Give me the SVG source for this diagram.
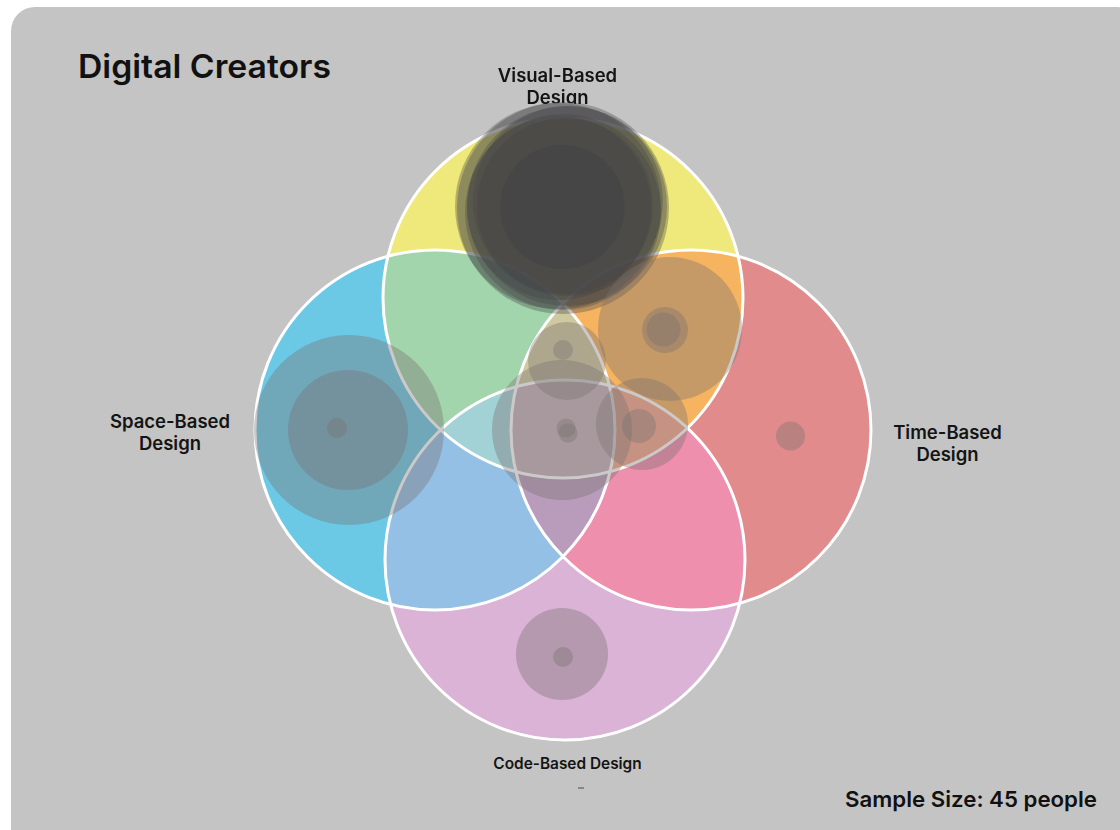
<svg xmlns="http://www.w3.org/2000/svg" width="1120" height="830" viewBox="0 0 1120 830">
<style>
  .lbl{font-family:Inter,"Liberation Sans",sans-serif;font-weight:600;fill:#141414;text-anchor:middle;font-size:18.5px;}
  .title{font-family:Inter,"Liberation Sans",sans-serif;font-weight:600;fill:#111;}
  .g{fill:#787070;fill-opacity:0.38;}
  .gd{fill:#424246;fill-opacity:0.34;}
  .ol{fill:none;stroke:#ffffff;stroke-width:3;}
</style>
<defs>
  <clipPath id="clipY"><circle cx="563" cy="298" r="180"/></clipPath>
  <clipPath id="clipB"><circle cx="435" cy="430" r="180"/></clipPath>
  <clipPath id="clipR"><circle cx="691" cy="430" r="180"/></clipPath>
  <clipPath id="clipP"><circle cx="565" cy="560" r="180"/></clipPath>
  <mask id="mTop">
    <rect x="0" y="0" width="1120" height="830" fill="#fff"/>
    <circle cx="562" cy="208" r="105" fill="#000"/>
  </mask>
</defs>

<rect id="background" x="11" y="7" width="1130" height="850" rx="24" fill="#c4c4c4"/>

<g id="venn-fills">
  <circle cx="563" cy="298" r="180" fill="#eee97a"/>
  <circle cx="435" cy="430" r="180" fill="#6bc9e6"/>
  <circle cx="691" cy="430" r="180" fill="#e28b8c"/>
  <circle cx="565" cy="560" r="180" fill="#dab3d6"/>
  <g clip-path="url(#clipY)">
    <circle cx="435" cy="430" r="180" fill="#a2d5ab"/>
    <circle cx="691" cy="430" r="180" fill="#f6b460"/>
  </g>
  <g clip-path="url(#clipP)">
    <circle cx="435" cy="430" r="180" fill="#95c0e5"/>
    <circle cx="691" cy="430" r="180" fill="#ef8fae"/>
  </g>
  <g clip-path="url(#clipB)">
    <circle cx="691" cy="430" r="180" fill="#b99bbb"/>
  </g>
  <g clip-path="url(#clipY)"><g clip-path="url(#clipB)">
    <circle cx="691" cy="430" r="180" fill="#cfc9a0"/>
    <circle cx="565" cy="560" r="180" fill="#a2d1d6"/>
  </g></g>
  <g clip-path="url(#clipP)"><g clip-path="url(#clipB)">
    <circle cx="691" cy="430" r="180" fill="#b99bbb"/>
  </g></g>
  <g clip-path="url(#clipY)"><g clip-path="url(#clipR)">
    <circle cx="565" cy="560" r="180" fill="#f6a88e"/>
  </g></g>
  <g clip-path="url(#clipY)"><g clip-path="url(#clipB)"><g clip-path="url(#clipR)">
    <circle cx="565" cy="560" r="180" fill="#c6b2bc"/>
  </g></g></g>
</g>

<g id="venn-outlines">
  <circle class="ol" cx="563" cy="298" r="180"/>
  <circle class="ol" cx="435" cy="430" r="180"/>
  <circle class="ol" cx="691" cy="430" r="180"/>
  <circle class="ol" cx="565" cy="560" r="180"/>
</g>

<g id="label-visual" mask="url(#mTop)">
  <text class="lbl" x="557.5" y="82">Visual-Based</text>
  <text class="lbl" x="557.5" y="104">Design</text>
</g>
<g id="label-space">
  <text class="lbl" x="170" y="428">Space-Based</text>
  <text class="lbl" x="170" y="450">Design</text>
</g>
<g id="label-time">
  <text class="lbl" x="947.5" y="439">Time-Based</text>
  <text class="lbl" x="947.5" y="461">Design</text>
</g>
<g id="label-code">
  <text class="lbl" x="567.5" y="769" style="font-size:15.4px">Code-Based Design</text>
  <line x1="578" y1="788" x2="584" y2="788" stroke="#333" stroke-opacity="0.7" stroke-width="1.2"/>
</g>

<g id="bubble-visual">
  <circle class="gd" cx="563" cy="208" r="106"/>
  <circle class="gd" cx="558" cy="206" r="103"/>
  <circle class="gd" cx="567" cy="206" r="100"/>
  <circle class="gd" cx="563" cy="212" r="98"/>
  <circle class="gd" cx="568" cy="201" r="95"/>
  <circle class="gd" cx="559" cy="208" r="92"/>
  <circle class="gd" cx="565" cy="206" r="88"/>
  <circle class="gd" cx="562" cy="207" r="62"/>
  <circle class="gd" cx="563" cy="207" r="62"/>
</g>
<g id="bubble-visual-time">
  <circle class="g" cx="670" cy="329" r="72"/>
  <circle class="g" cx="665" cy="330" r="23"/>
  <circle class="g" cx="663.5" cy="329.5" r="17"/>
</g>
<g id="bubble-visual-space-time">
  <circle class="g" cx="567" cy="361" r="39"/>
  <circle class="g" cx="563" cy="350" r="10"/>
</g>
<g id="bubble-center">
  <circle class="g" cx="562" cy="430" r="70"/>
  <circle class="g" cx="566" cy="428" r="9.5"/>
  <circle class="g" cx="568" cy="433" r="9.5"/>
</g>
<g id="bubble-visual-time-code">
  <circle class="g" cx="642" cy="424" r="46"/>
  <circle class="g" cx="639" cy="426" r="17"/>
</g>
<g id="bubble-space">
  <circle class="g" cx="349" cy="430" r="95"/>
  <circle class="g" cx="348" cy="430" r="60"/>
  <circle class="g" cx="337" cy="428" r="10"/>
</g>
<g id="bubble-time">
  <circle class="g" cx="790.5" cy="436" r="14.5"/>
</g>
<g id="bubble-code">
  <circle class="g" cx="562" cy="654" r="46"/>
  <circle class="g" cx="563" cy="657" r="10"/>
</g>

<g id="title">
  <text class="title" x="78" y="78" font-size="33" textLength="253" lengthAdjust="spacingAndGlyphs">Digital Creators</text>
</g>
<g id="sample-size">
  <text class="title" x="845" y="807" font-size="22" textLength="252" lengthAdjust="spacingAndGlyphs">Sample Size: 45 people</text>
</g>
</svg>
